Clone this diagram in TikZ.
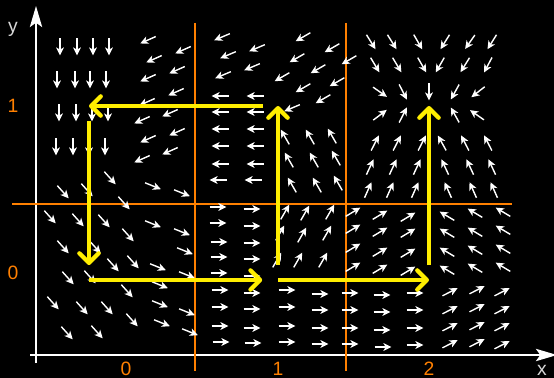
\documentclass[tikz,border=0pt]{standalone}
\usepackage{fontspec}
\setmainfont{Liberation Sans}
\usetikzlibrary{arrows.meta}
\definecolor{fforange}{RGB}{255,128,0}
\definecolor{ffyellow}{RGB}{255,238,0}
\definecolor{fflabel}{RGB}{215,215,215}

\begin{document}
\begin{tikzpicture}[
  x=0.02cm, y=-0.02cm,
  every node/.style={font=\fontsize{11}{13}\selectfont, inner sep=0pt},
  axisline/.style={draw=white, line width=1pt,
    -{Stealth[length=12pt, width=7pt, inset=2.5pt]}},
  cellline/.style={draw=fforange, line width=1.7pt},
  ticklab/.style={text=fforange},
  axlab/.style={text=fflabel},
  vec/.style={draw=white, line width=0.8pt,
    -{Stealth[length=4.6pt, width=4.4pt, inset=1.3pt]}},
  route/.style={draw=ffyellow, line width=2.4pt,
    -{Straight Barb[length=5.5pt, width=11pt, round]}}
]
  \path[use as bounding box, fill=black] (0,0) rectangle (554,378);

  \coordinate (xstart) at (30,355);
  \coordinate (xend) at (557,355);
  \coordinate (ystart) at (36,363);
  \coordinate (yend) at (36,6);
  \draw[axisline] (xstart) -- (xend);
  \draw[axisline] (ystart) -- (yend);

  \draw[cellline] (195,23) -- (195,371);
  \draw[cellline] (346,23) -- (346,371);
  \draw[cellline] (12,204) -- (512,204);

  \foreach \x/\y in {60/47, 77/47, 93/47, 109/47, 57/80, 75/80, 90/80, 106/80,
      59/113, 76/113, 92/113, 108/113, 56/147, 73/147, 89/147, 105/147}
    \draw[vec] (\x,\y) ++(270:8.5) -- ++(90:17);
  \foreach \x/\y in {148/40, 183/50, 154/59, 177/70, 148/78, 176/92, 147/102,
      170/113, 142/120, 177/132, 148/139, 170/151, 142/159}
    \draw[vec] (\x,\y) ++(336:8.5) -- ++(156:17);
  \foreach \x/\y in {63/192, 87/190, 110/178, 124/203, 50/217, 78/220, 104/221,
      128/235, 63/247, 95/247, 113/265, 133/262, 68/278, 90/277, 127/291,
      53/303, 82/308, 107/308, 132/320, 67/333, 97/332}
    \draw[vec] (\x,\y) ++(228:8.5) -- ++(48:17);
  \foreach \x/\y in {153/186, 182/193, 153/224, 182/232, 185/251, 158/267,
      187/275, 160/285, 160/304, 187/312, 162/323, 190/332}
    \draw[vec] (\x,\y) ++(202:8.5) -- ++(22:17);

  \foreach \x/\y in {222/37, 257/48, 228/55, 252/67, 223/75, 292/108}
    \draw[vec] (\x,\y) ++(337:8.5) -- ++(157:17);
  \foreach \x/\y in {303/37, 332/48, 349/60, 297/58, 318/69, 282/77, 337/82,
      303/88, 323/99}
    \draw[vec] (\x,\y) ++(330:8.5) -- ++(150:17);
  \foreach \x/\y in {220/96, 255/96, 220/112, 255/112, 220/129, 255/129,
      220/146, 255/146, 220/164, 255/164, 218/180, 253/180}
    \draw[vec] (\x,\y) ++(0:8.5) -- ++(180:17);
  \foreach \x/\y in {285/137, 310/137, 332/136, 289/160, 314/160, 336/158,
      292/185, 317/185, 338/183}
    \draw[vec] (\x,\y) ++(60:8.5) -- ++(240:17);

  \foreach \x/\y/\a in {371/42/58, 392/42/58, 418/42/60, 445/42/122, 470/42/125,
      492/42/122, 375/65/59, 397/65/59, 422/65/60, 440/65/120, 465/65/122,
      488/65/118, 380/92/35, 403/92/63, 429/92/90, 455/92/119, 478/92/142,
      380/115/-37, 403/115/-63, 455/115/-119, 477/115/-145,
      375/143/-63, 397/143/-63, 422/143/-63, 442/143/-119, 465/143/-117,
      488/143/-117, 370/167/-65, 393/167/-65, 417/167/-65, 445/167/-115,
      470/167/-115, 492/167/-115, 368/190/-66, 390/190/-66, 415/190/-66,
      448/190/-114, 473/190/-114, 494/190/-114}
    \draw[vec] (\x,\y) ++(\a+180:8.5) -- ++(\a:17);

  \foreach \x/\y in {218/207, 252/209, 218/223, 252/226, 219/242, 252/243,
      219/257, 252/259, 219/273, 252/276, 220/290, 252/293, 220/307, 252/309,
      220/326, 252/328, 221/342, 253/343, 287/290, 320/294, 287/307, 320/310,
      287/326, 320/328, 287/342, 320/344, 350/293, 382/295, 415/293, 350/310,
      382/312, 415/310, 350/328, 382/330, 415/328, 350/344, 383/347, 415/345}
    \draw[vec] (\x,\y) ++(180:8.5) -- ++(0:17);
  \foreach \x/\y in {285/212, 305/213, 330/212, 280/233, 302/235, 327/233,
      277/260, 298/260, 323/260}
    \draw[vec] (\x,\y) ++(120:8.5) -- ++(-60:17);
  \foreach \x/\y in {353/212, 380/215, 408/217, 353/229, 380/232, 408/233,
      353/248, 380/252, 408/253, 353/267, 380/269, 408/271}
    \draw[vec] (\x,\y) ++(149:8.5) -- ++(-31:17);
  \foreach \x/\y in {447/216, 475/213, 503/212, 447/233, 475/232, 503/230,
      447/252, 475/250, 503/249, 447/270, 475/268, 503/267}
    \draw[vec] (\x,\y) ++(31:8.5) -- ++(211:17);
  \foreach \x/\y in {450/292, 477/290, 502/292, 450/310, 477/308, 502/310,
      450/327, 477/326, 502/327, 450/344, 477/343, 502/345}
    \draw[vec] (\x,\y) ++(153:8.5) -- ++(-27:17);

  \coordinate (p00) at (89,280);
  \coordinate (p01) at (89,106);
  \coordinate (p10) at (278,280);
  \coordinate (p11) at (278,106);
  \coordinate (p20) at (429,280);
  \coordinate (p21) at (429,106);
  \draw[route, shorten <=8.5pt] (p11) -- (p01);
  \draw[route, shorten <=8.5pt, shorten >=8.5pt] (p01) -- (p00);
  \draw[route, shorten >=9pt] (p00) -- (p10);
  \draw[route, shorten <=8.5pt] (p10) -- (p11);
  \draw[route] (p10) -- (p20);
  \draw[route, shorten <=8.5pt] (p20) -- (p21);

  \node[ticklab] (x0) at (126,369) {0};
  \node[ticklab] (x1) at (278,369) {1};
  \node[ticklab] (x2) at (429,369) {2};
  \node[ticklab] (y0) at (13,273) {0};
  \node[ticklab] (y1) at (13,106) {1};
  \node[axlab] (ylab) at (13,29) {y};
  \node[axlab] (xlab) at (542,370) {x};
\end{tikzpicture}
\end{document}
